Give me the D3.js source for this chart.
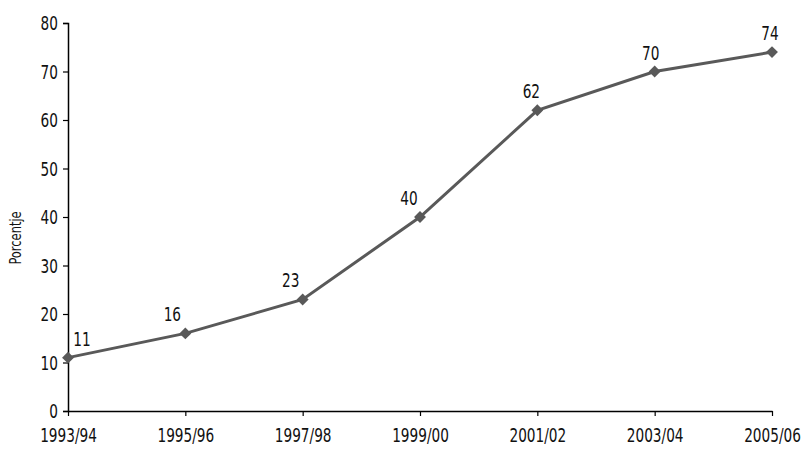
<!DOCTYPE html>
<html><head><meta charset="utf-8">
<script src="https://cdn.jsdelivr.net/npm/d3@7"></script>
<style>
body{margin:0;background:#fff;}
text{font-family:"DejaVu Sans Condensed","DejaVu Sans",sans-serif;font-stretch:condensed;fill:#111;}
</style></head>
<body><svg id="c" width="808" height="451"></svg>
<script>
const categories = ["1993/94","1995/96","1997/98","1999/00","2001/02","2003/04","2005/06"];
const values = [11,16,23,40,62,70,74];
const yTicks = [0,10,20,30,40,50,60,70,80];
const labelDx = [14,-13,-12,-11,-6,-4,-2];

const SX = 0.8;
const svg = d3.select("#c");
const m = {l:68, r:36, t:23, b:40};
const W = 808, H = 451;
const x = d3.scalePoint().domain(categories).range([m.l, W - m.r]);
const y = d3.scaleLinear().domain([0,80]).range([H - m.b, m.t]);

const ya = svg.append("g").attr("transform",`translate(${m.l},0)`)
  .call(d3.axisLeft(y).tickValues(yTicks).tickSize(5).tickPadding(4));
ya.select(".domain").attr("stroke","#000").attr("stroke-width",1.5);
ya.selectAll(".tick line").attr("stroke","#000").attr("stroke-width",1.2);
ya.selectAll(".tick text").style("font-size","19px").attr("fill","#111")
  .attr("x",0).attr("dy","0.36em").attr("transform",`translate(-10,0) scale(${SX},1)`);

const xa = svg.append("g").attr("transform",`translate(0,${H - m.b})`)
  .call(d3.axisBottom(x).tickSize(5).tickPadding(7).tickSizeOuter(0));
xa.select(".domain").attr("stroke","#000").attr("stroke-width",1.5);
xa.selectAll(".tick line").attr("stroke","#000").attr("stroke-width",1.2);
xa.selectAll(".tick text").style("font-size","19px").attr("fill","#111")
  .attr("y",0).attr("dy","0").attr("transform",`translate(0,31) scale(${SX},1)`);

svg.append("text").attr("transform",`translate(21,${238}) rotate(-90) scale(0.85,1)`)
  .attr("text-anchor","middle").style("font-size","15px").text("Porcentje");

const line = d3.line().x((d,i)=>x(categories[i])).y(d=>y(d));
svg.append("path").datum(values).attr("d",line)
  .attr("fill","none").attr("stroke","#595959").attr("stroke-width",3);

svg.selectAll(".pt").data(values).enter().append("path")
  .attr("d", d3.symbol().type(d3.symbolDiamond2).size(90))
  .attr("transform",(d,i)=>`translate(${x(categories[i])},${y(d)})`)
  .attr("fill","#595959");

svg.selectAll(".lbl").data(values).enter().append("text")
  .attr("transform",(d,i)=>`translate(${x(categories[i]) + labelDx[i]},${y(d) - 12}) scale(${SX},1)`)
  .attr("text-anchor","middle").style("font-size","19px").text(d=>d);
</script></body></html>
